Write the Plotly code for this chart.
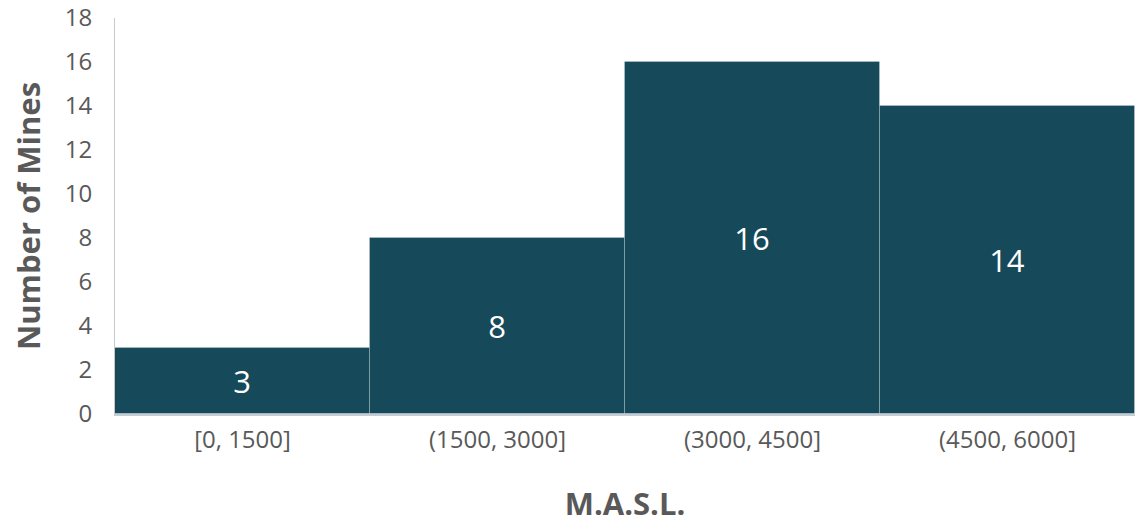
import plotly.graph_objects as go

# Elevation bins (metres above sea level) and mine counts per bin
bins = ["[0, 1500]", "(1500, 3000]", "(3000, 4500]", "(4500, 6000]"]
mine_counts = [3, 8, 16, 14]
y_ticks = [0, 2, 4, 6, 8, 10, 12, 14, 16, 18]

BAR_COLOR = "#164959"
TEXT_GRAY = "#595959"
FONT = "Open Sans, Lato, sans-serif"

fig = go.Figure(
    go.Bar(
        x=bins,
        y=mine_counts,
        text=[str(v) for v in mine_counts],
        textposition="inside",
        insidetextanchor="middle",
        textfont=dict(color="white", size=31, family=FONT),
        marker=dict(color=BAR_COLOR, line=dict(color="rgba(255,255,255,0.22)", width=1)),
        hoverinfo="x+y",
    )
)

fig.update_layout(
    width=1135,
    height=524,
    margin=dict(l=115, r=0, t=18, b=110),
    paper_bgcolor="white",
    plot_bgcolor="white",
    bargap=0,
    showlegend=False,
    font=dict(family=FONT, color=TEXT_GRAY),
    uniformtext=dict(minsize=10, mode="show"),
)

fig.update_xaxes(
    type="category",
    showgrid=False,
    showline=True,
    linecolor="#c5ccd6",
    linewidth=2,
    ticks="",
    ticklabelstandoff=3,
    tickfont=dict(size=24, color=TEXT_GRAY),
    title=dict(text="<b>M.A.S.L.</b>", font=dict(size=31, color=TEXT_GRAY), standoff=40),
)

fig.update_yaxes(
    range=[0, 18],
    tickvals=y_ticks,
    showgrid=False,
    zeroline=False,
    showline=True,
    linecolor="#c8c8c8",
    linewidth=1,
    ticks="",
    ticklabelstandoff=17,
    tickfont=dict(size=24, color=TEXT_GRAY),
    title=dict(text="<b>Number of Mines</b>", font=dict(size=31, color=TEXT_GRAY), standoff=14),
)

fig.write_html("out.html")
